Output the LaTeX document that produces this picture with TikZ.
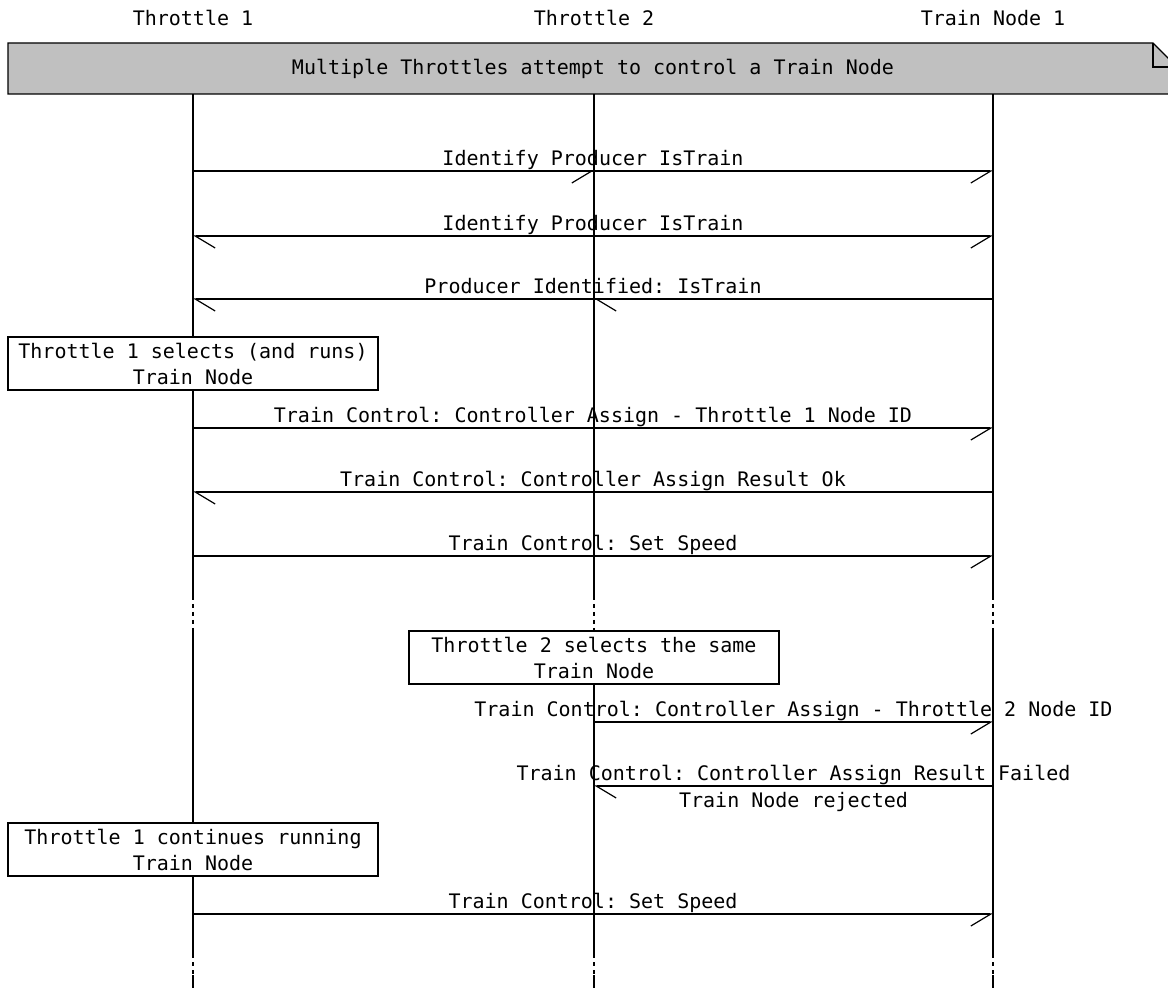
\documentclass[tikz,border=0pt]{standalone}
\usepackage{fontspec}
\setmonofont{DejaVu Sans Mono}
\usetikzlibrary{arrows.meta}
\definecolor{notegray}{HTML}{C0C0C0}
\tikzset{
  msgr/.style={-{Straight Barb[right,length=10pt,width=12pt]}},
  msgl/.style={-{Straight Barb[left,length=10pt,width=12pt]}},
  lbl/.style={above=2.5pt,inner sep=0pt,text depth=0pt},
  lblb/.style={below=3pt,inner sep=0pt},
  gap/.style={dash pattern=on 2pt off 2pt},
  notebox/.style={draw,fill=white,minimum width=185pt,minimum height=26.5pt,inner sep=0pt,align=center}
}
\begin{document}
\begin{tikzpicture}[x=0.5pt,y=-0.5pt,line width=0.6pt,font=\ttfamily\fontsize{10}{13}\selectfont]
  \useasboundingbox (0,0) rectangle (1168,988);
  % entities
  \node (t1) at (193,18) {Throttle 1};
  \node (t2) at (594,18) {Throttle 2};
  \node (tn) at (993,18) {Train Node 1};
  % rows
  \coordinate (hd) at (0,94);
  \coordinate (ga) at (0,596);
  \coordinate (gb) at (0,630);
  \coordinate (gc) at (0,954);
  \coordinate (gd) at (0,975);
  \coordinate (ft) at (0,992);
  \foreach \y [count=\i] in {171,236,299,428,492,556,722,786,914}
    \coordinate (r\i) at (0,\y);
  % life lines
  \foreach \l in {t1,t2,tn}{
    \draw (\l |- hd) -- (\l |- ga);
    \draw[gap] (\l |- ga) -- (\l |- gb);
    \draw (\l |- gb) -- (\l |- gc);
    \draw[gap] (\l |- gc) -- (\l |- gd);
    \draw (\l |- gd) -- (\l |- ft);
  }
  % title bar
  \draw[fill=notegray] (8,43) -- (1153,43) -- (1177,67) -- (1177,94) -- (8,94) -- cycle;
  \draw (1153,43) -- (1153,67) -- (1177,67);
  \node (ttl) at (593,69) {Multiple Throttles attempt to control a Train Node};
  % discovery
  \draw[msgr] (t1 |- r1) -- (t2 |- r1);
  \draw[msgr] (t1 |- r1) -- (tn |- r1) node[lbl,midway] {Identify Producer IsTrain};
  \draw[msgl] (t2 |- r2) -- (t1 |- r2);
  \draw[msgr] (t2 |- r2) -- (tn |- r2);
  \path (t1 |- r2) -- (tn |- r2) node[lbl,midway] {Identify Producer IsTrain};
  \draw[msgl] (tn |- r3) -- (t2 |- r3);
  \draw[msgl] (tn |- r3) -- (t1 |- r3) node[lbl,midway] {Producer Identified: IsTrain};
  % throttle 1 takes the train
  \node[notebox] (n1) at (193,363.5) {Throttle 1 selects (and runs)\\Train Node};
  \draw[msgr] (t1 |- r4) -- (tn |- r4) node[lbl,midway] {Train Control: Controller Assign - Throttle 1 Node ID};
  \draw[msgl] (tn |- r5) -- (t1 |- r5) node[lbl,midway] {Train Control: Controller Assign Result Ok};
  \draw[msgr] (t1 |- r6) -- (tn |- r6) node[lbl,midway] {Train Control: Set Speed};
  % throttle 2 tries too
  \node[notebox] (n2) at (594,657.5) {Throttle 2 selects the same\\Train Node};
  \draw[msgr] (t2 |- r7) -- (tn |- r7) node[lbl,midway] {Train Control: Controller Assign - Throttle 2 Node ID};
  \draw[msgl] (tn |- r8) -- (t2 |- r8) node[lbl,midway] {Train Control: Controller Assign Result Failed}
    node[lblb,midway] {Train Node rejected};
  \node[notebox] (n3) at (193,849.5) {Throttle 1 continues running\\Train Node};
  \draw[msgr] (t1 |- r9) -- (tn |- r9) node[lbl,midway] {Train Control: Set Speed};
\end{tikzpicture}
\end{document}
